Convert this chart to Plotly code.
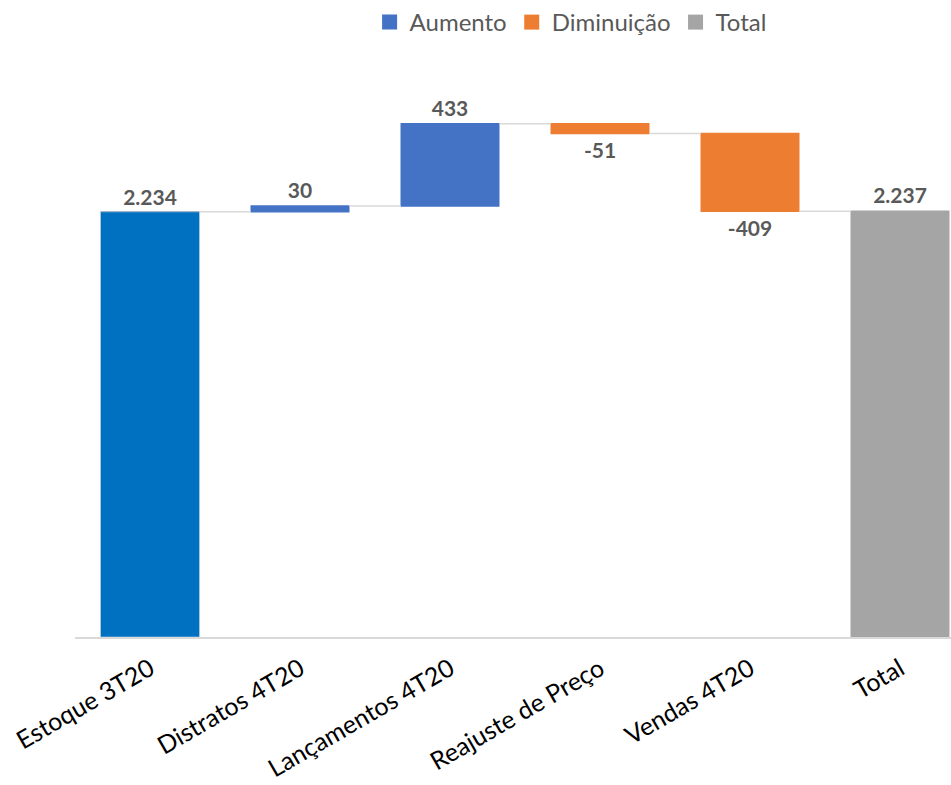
import plotly.graph_objects as go

categories = ["Estoque 3T20", "Distratos 4T20", "Lançamentos 4T20",
              "Reajuste de Preço", "Vendas 4T20", "Total"]
values = [2234, 30, 433, -51, -409, 2237]
measures = ["absolute", "relative", "relative", "relative", "relative", "total"]
legend_labels = ["Aumento", "Diminuição", "Total"]
legend_colors = ["#4472C4", "#ED7D31", "#A5A5A5"]
first_color = "#0070C0"


def fmt(v):
    return f"{v:,}".replace(",", ".")


texts = [fmt(v) for v in values]
xpos = list(range(len(categories)))
label_font = dict(family="Lato", size=21, color="#595959", weight="bold")

fig = go.Figure()
fig.add_trace(go.Waterfall(
    x=xpos, y=values, measure=measures, width=0.66,
    text=[""] + texts[1:], textposition="outside",
    textfont=label_font, cliponaxis=False,
    increasing=dict(marker=dict(color=legend_colors[0])),
    decreasing=dict(marker=dict(color=legend_colors[1])),
    totals=dict(marker=dict(color=legend_colors[2])),
    connector=dict(line=dict(color="#D9D9D9", width=1.5)),
    showlegend=False, hoverinfo="skip",
))
fig.add_trace(go.Bar(
    x=[xpos[0]], y=[values[0]], width=0.66, marker_color=first_color,
    text=[texts[0]], textposition="outside", textfont=label_font,
    cliponaxis=False, showlegend=False, hoverinfo="skip",
))
for name, c in zip(legend_labels, legend_colors):
    fig.add_trace(go.Scatter(
        x=[None], y=[None], mode="markers", name=name,
        marker=dict(symbol="square", size=15, color=c),
    ))

fig.update_layout(
    width=951, height=785,
    margin=dict(l=75, r=0, t=66, b=148),
    plot_bgcolor="white", paper_bgcolor="white",
    font=dict(family="Lato", color="#000000"),
    barmode="overlay",
    showlegend=True,
    legend=dict(orientation="h", xref="container", yref="container",
                x=0.6, xanchor="center", y=1.0, yanchor="top",
                font=dict(family="Lato", size=24, color="#595959"),
                itemwidth=30, traceorder="normal"),
    xaxis=dict(range=[-0.5, 5.34], tickmode="array", tickvals=xpos,
               ticktext=categories, tickangle=-30,
               tickfont=dict(family="Lato", size=25, color="#000000"),
               ticklabelstandoff=6,
               showline=True, linecolor="#D9D9D9", linewidth=1.5,
               showgrid=False, zeroline=False, ticks=""),
    yaxis=dict(range=[0, 3000], visible=False, showgrid=False),
)

fig.write_html("out.html")
